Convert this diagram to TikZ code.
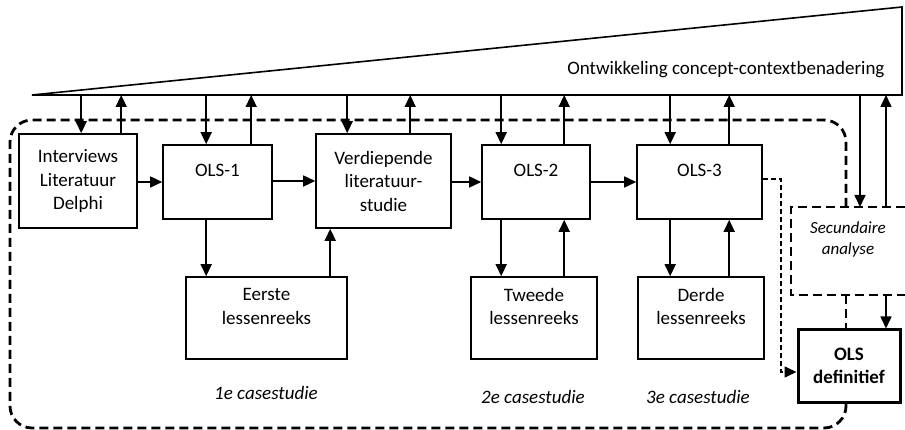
\documentclass[tikz,border=0pt]{standalone}
\usepackage{fontspec}
\setmainfont{Carlito}
\usetikzlibrary{arrows.meta}

\begin{document}
\begin{tikzpicture}[x=1pt, y=-1pt, font=\fontsize{19}{23.5}\selectfont,
  box/.style={draw, line width=1.6pt, align=center, inner sep=0pt},
  arr/.style={line width=1.6pt, -{Triangle[length=12pt,width=11pt]}},
  dashloop/.style={line width=2.8pt, dash pattern=on 9pt off 5pt},
  casetxt/.style={font=\fontsize{19}{23.5}\selectfont\itshape}]

\useasboundingbox (0,0) rectangle (905,430);

% Wedge on top
\draw[line width=1.6pt] (32,95) -- (902,7) -- (902,95) -- cycle;
\node[anchor=east] (ccb) at (888,70) {Ontwikkeling concept-contextbenadering};
\coordinate (base) at (0,95);
\coordinate (sectop) at (0,207);
\coordinate (secbot) at (0,295);
\coordinate (lx) at (846,0);

% Boxes: name/x/y/width/height/text
\foreach \n/\x/\y/\w/\h/\t in {
    intv/78/181/118/94/{Interviews\\Literatuur\\Delphi},
    ols1/217.5/182/109/74/{OLS-1\\~},
    verd/383.5/181/135/94/{Verdiepende\\literatuur-\\studie},
    ols2/536/182/108/74/{OLS-2\\~},
    ols3/699.5/182/125/74/{OLS-3\\~},
    eerste/266.5/318/161/82/{Eerste\\lessenreeks\\~},
    tweede/534/318/126/82/{Tweede\\lessenreeks\\~},
    derde/701/318/126/82/{Derde\\lessenreeks\\~}}
  \node[box, minimum width=\w pt, minimum height=\h pt] (\n) at (\x,\y) {\t};

% Final box
\node[box, line width=3pt, font=\fontsize{19}{23.5}\selectfont\bfseries,
  minimum width=102pt, minimum height=72pt] (def) at (849,366) {OLS\\definitief};

% Secondary analysis (open to the right)
\draw[dashloop] (905,207) -- (791,207) -- (791,295) -- (905,295);
\node[align=center, font=\fontsize{17}{21}\selectfont\itshape] (sec) at (848,239)
  {Secundaire\\analyse};

% Case study labels
\node[casetxt] (c1) at (266,393) {1e casestudie};
\node[casetxt] (c2) at (533,397) {2e casestudie};
\node[casetxt] (c3) at (698,397) {3e casestudie};

% Arrows between wedge and boxes (offsets from west side)
\foreach \n/\d/\u in {intv/63/103, ols1/44/89, verd/32/95, ols2/20/83, ols3/34/93} {
  \path ([xshift=\d pt]\n.north west) coordinate (p)
        ([xshift=\u pt]\n.north west) coordinate (q);
  \draw[arr] (p |- base) -- (p);
  \draw[arr] (q) -- (q |- base);
}

% Main chain
\foreach \a/\b in {intv/ols1, ols1/verd, verd/ols2, ols2/ols3}
  \draw[arr] (\a.east |- \b.west) -- (\b.west);

% Down to the series of lessons
\foreach \a/\b/\d in {ols1/eerste/44, ols2/tweede/20, ols3/derde/34} {
  \path ([xshift=\d pt]\a.south west) coordinate (p);
  \draw[arr] (p) -- (p |- \b.north);
}
% and back up
\foreach \a/\b/\d in {eerste/verd/145, tweede/ols2/94, derde/ols3/92} {
  \path ([xshift=\d pt]\a.north west) coordinate (p);
  \draw[arr] (p) -- (p |- \b.south);
}

% Wedge <-> secondary analysis -> final
\coordinate (s1) at (860,207);
\coordinate (s2) at (886,207);
\draw[arr] (s1 |- base) -- (s1);
\draw[arr] (s2) -- (s2 |- base);
\draw[arr] (s2 |- secbot) -- (s2 |- def.north);

% OLS-3 -> final (thin dashed)
\draw[line width=1.6pt, dash pattern=on 5pt off 3pt, -{Triangle[length=12pt,width=11pt]}]
  ([yshift=3pt]ols3.east) -- ++(18,0) |- ([yshift=-6pt]def.west);

% Dashed outline round the case studies
\draw[dashloop, rounded corners=22pt] (lx |- sectop) -- (lx |- 0,120) -- (10,120)
  -- (10,428) -- (lx |- 0,428) -- (lx |- def.south);
\draw[dashloop] (lx |- secbot) -- (lx |- def.north);

\end{tikzpicture}
\end{document}
